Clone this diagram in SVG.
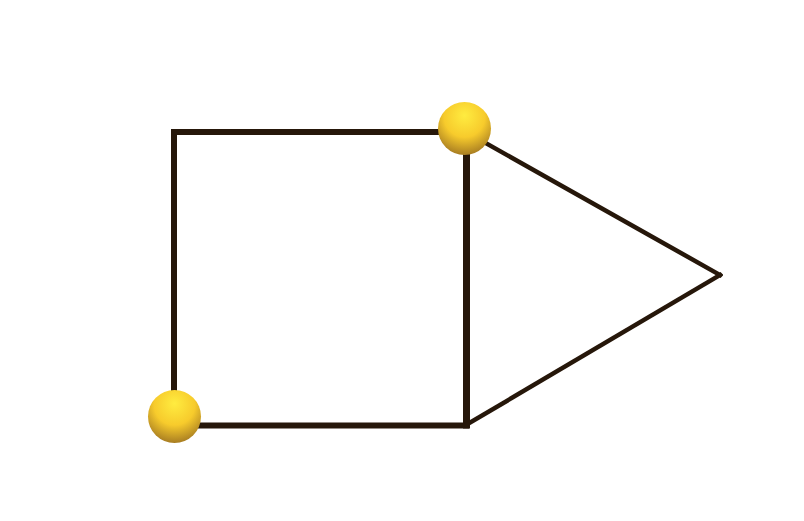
<svg xmlns="http://www.w3.org/2000/svg" width="804" height="521" viewBox="0 0 804 521">
<defs>
<radialGradient id="ball" cx="0.5" cy="0.3" r="0.7" fx="0.5" fy="0.25">
<stop offset="0" stop-color="#ffec40"/>
<stop offset="0.55" stop-color="#f7cb2c"/>
<stop offset="1" stop-color="#a87d22"/>
</radialGradient>
<style>
.e{stroke:#26170a;fill:none;stroke-linecap:square;stroke-linejoin:miter}
.s{fill:url(#ball)}
</style>
</defs>
<rect width="804" height="521" fill="#ffffff"/>
<g id="connectors">
<line class="e" x1="174" y1="132" x2="466" y2="132" stroke-width="6"/>
<line class="e" x1="174" y1="132" x2="174" y2="425" stroke-width="6"/>
<line class="e" x1="174" y1="425.5" x2="466" y2="425.5" stroke-width="6"/>
<line class="e" x1="466.5" y1="132" x2="466.5" y2="425" stroke-width="7"/>
<line class="e" x1="466" y1="132" x2="720" y2="275" stroke-width="4.5" stroke-linecap="butt"/>
<line class="e" x1="466" y1="425" x2="720" y2="275" stroke-width="4.5" stroke-linecap="butt"/>
</g>
<g id="node1"><circle class="s" cx="464.5" cy="128.5" r="26.5"/></g>
<g id="node2"><circle class="s" cx="174.5" cy="416.5" r="26.5"/></g>
</svg>
